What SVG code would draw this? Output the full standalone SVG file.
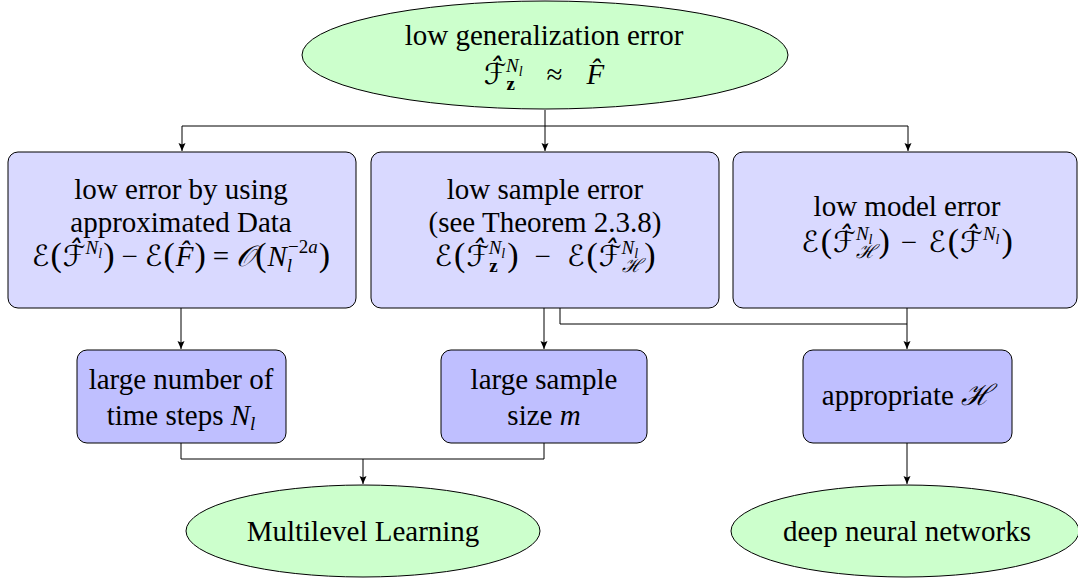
<svg xmlns="http://www.w3.org/2000/svg" width="1078" height="582" viewBox="0 0 1078 582">
<defs>
<style>
.ell{fill:#ccffcc;stroke:#000;stroke-width:1}
.b1{fill:#d9d9ff;stroke:#000;stroke-width:1}
.b2{fill:#bfbfff;stroke:#000;stroke-width:1}
.t{font-size:29px;fill:#000;text-anchor:middle}
.i{font-style:italic}
.bf{font-weight:bold}
.s{font-size:19px}
.ss{font-size:14px}
.p{font-size:34px}
.sc{font-style:italic}
.con{fill:none;stroke:#000;stroke-width:1}
</style>
<marker id="arr" markerWidth="9" markerHeight="8" refX="8" refY="3.5" orient="auto" markerUnits="userSpaceOnUse">
<path d="M0,0 L8,3.5 L0,7 L1.5,3.5 z" fill="#000"/>
</marker>
</defs>

<g id="connectors">
<path class="con" d="M545 110 V151" marker-end="url(#arr)"/>
<path class="con" d="M545 126 H182 V151" marker-end="url(#arr)"/>
<path class="con" d="M545 126 H908 V151" marker-end="url(#arr)"/>
<path class="con" d="M181 308 V349" marker-end="url(#arr)"/>
<path class="con" d="M544 308 V349" marker-end="url(#arr)"/>
<path class="con" d="M560 308 V324 H907"/>
<path class="con" d="M907 308 V349" marker-end="url(#arr)"/>
<path class="con" d="M181 443 V459 H544 V443"/>
<path class="con" d="M363 459 V484" marker-end="url(#arr)"/>
<path class="con" d="M907 443 V484" marker-end="url(#arr)"/>
</g>

<g id="n-top">
<ellipse class="ell" cx="545" cy="55" rx="243" ry="54"/>
<text class="t" x="544" y="45" font-family="Liberation Serif">low generalization error</text>
<text class="t" x="544" y="84" font-family="Liberation Serif"><tspan class="sc" font-family="DejaVu Sans">ℱ̂</tspan><tspan class="s bf" dy="6">z</tspan><tspan class="s i" dx="-9" dy="-18">N</tspan><tspan class="ss i" dy="4">l</tspan><tspan dx="24" dy="8">≈</tspan><tspan class="i" dx="24">F̂</tspan></text>
</g>

<g id="n-approx">
<rect class="b1" x="8" y="152" width="348" height="156" rx="10"/>
<text class="t" x="181" y="199" font-family="Liberation Serif">low error by using</text>
<text class="t" x="181" y="232" font-family="Liberation Serif">approximated Data</text>
<text class="t" x="181" y="266" font-family="Liberation Serif"><tspan class="sc" font-family="DejaVu Sans">ℰ</tspan><tspan class="p" dx="1">(</tspan><tspan class="sc" font-family="DejaVu Sans" dx="1">ℱ̂</tspan><tspan class="s i" dy="-12">N</tspan><tspan class="ss i" dy="4">l</tspan><tspan class="p" dx="1" dy="8">)</tspan><tspan dx="7">−</tspan><tspan class="sc" font-family="DejaVu Sans" dx="7">ℰ</tspan><tspan class="p" dx="1">(</tspan><tspan class="i" dx="1">F̂</tspan><tspan class="p" dx="1">)</tspan><tspan dx="7">=</tspan><tspan class="sc" font-family="DejaVu Serif" dx="7">𝒪</tspan><tspan class="p" dx="1">(</tspan><tspan class="i" dx="1">N</tspan><tspan class="s i" dy="6">l</tspan><tspan class="s" dx="-4" dy="-19">−2<tspan class="i">a</tspan></tspan><tspan class="p" dx="1" dy="13">)</tspan></text>
</g>

<g id="n-sample">
<rect class="b1" x="371" y="152" width="348" height="156" rx="10"/>
<text class="t" x="545" y="199" font-family="Liberation Serif">low sample error</text>
<text class="t" x="545" y="232" font-family="Liberation Serif">(see Theorem 2.3.8)</text>
<text class="t" x="545" y="266" font-family="Liberation Serif"><tspan class="sc" font-family="DejaVu Sans">ℰ</tspan><tspan class="p" dx="2">(</tspan><tspan class="sc" font-family="DejaVu Sans" dx="1">ℱ̂</tspan><tspan class="s bf" dy="6">z</tspan><tspan class="s i" dx="-9" dy="-18">N</tspan><tspan class="ss i" dy="4">l</tspan><tspan class="p" dx="2" dy="8">)</tspan><tspan dx="16">−</tspan><tspan class="sc" font-family="DejaVu Sans" dx="16">ℰ</tspan><tspan class="p" dx="2">(</tspan><tspan class="sc" font-family="DejaVu Sans" dx="1">ℱ̂</tspan><tspan class="s i" dy="-12">N</tspan><tspan class="ss i" dy="4">l</tspan><tspan class="s sc" font-family="DejaVu Serif" dx="-16" dy="14">ℋ</tspan><tspan class="p" dx="2" dy="-6">)</tspan></text>
</g>

<g id="n-model">
<rect class="b1" x="733" y="152" width="344" height="156" rx="10"/>
<text class="t" x="907" y="216" font-family="Liberation Serif">low model error</text>
<text class="t" x="907" y="252" font-family="Liberation Serif"><tspan class="sc" font-family="DejaVu Sans">ℰ</tspan><tspan class="p" dx="2">(</tspan><tspan class="sc" font-family="DejaVu Sans" dx="1">ℱ̂</tspan><tspan class="s i" dy="-12">N</tspan><tspan class="ss i" dy="4">l</tspan><tspan class="s sc" font-family="DejaVu Serif" dx="-16" dy="14">ℋ</tspan><tspan class="p" dx="2" dy="-6">)</tspan><tspan dx="11">−</tspan><tspan class="sc" font-family="DejaVu Sans" dx="11">ℰ</tspan><tspan class="p" dx="2">(</tspan><tspan class="sc" font-family="DejaVu Sans" dx="1">ℱ̂</tspan><tspan class="s i" dy="-12">N</tspan><tspan class="ss i" dy="4">l</tspan><tspan class="p" dx="2" dy="8">)</tspan></text>
</g>

<g id="n-steps">
<rect class="b2" x="77" y="350" width="209" height="93" rx="10"/>
<text class="t" x="181" y="389" font-family="Liberation Serif">large number of</text>
<text class="t" x="181" y="425" font-family="Liberation Serif">time steps <tspan class="i">N</tspan><tspan class="s i" dy="5">l</tspan></text>
</g>

<g id="n-size">
<rect class="b2" x="441" y="350" width="206" height="93" rx="10"/>
<text class="t" x="544" y="389" font-family="Liberation Serif">large sample</text>
<text class="t" x="544" y="425" font-family="Liberation Serif">size <tspan class="i">m</tspan></text>
</g>

<g id="n-hyp">
<rect class="b2" x="803" y="350" width="209" height="93" rx="10"/>
<text class="t" x="907" y="405" font-family="Liberation Serif">appropriate <tspan class="sc" font-family="DejaVu Serif">ℋ</tspan></text>
</g>

<g id="n-ml">
<ellipse class="ell" cx="363" cy="531" rx="177" ry="46"/>
<text class="t" x="363" y="541" font-family="Liberation Serif">Multilevel Learning</text>
</g>

<g id="n-dnn">
<ellipse class="ell" cx="905" cy="531" rx="174" ry="46"/>
<text class="t" x="907" y="541" font-family="Liberation Serif">deep neural networks</text>
</g>
</svg>
